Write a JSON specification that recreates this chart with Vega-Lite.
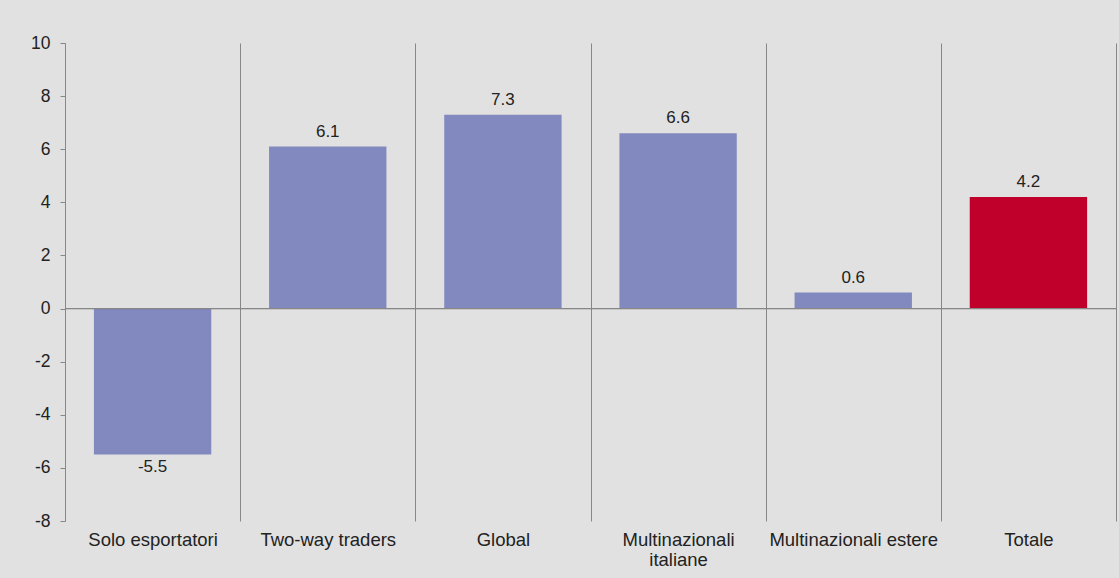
{
  "$schema": "https://vega.github.io/schema/vega-lite/v6.json",
  "autosize": "none",
  "width": 1051,
  "height": 478,
  "padding": {"left": 65, "top": 43, "right": 3, "bottom": 57},
  "background": "#e1e1e1",
  "config": {
    "view": {"stroke": null},
    "font": "Liberation Sans",
    "locale": {"number": {"decimal": ".", "thousands": ",", "grouping": [3], "currency": ["", ""], "minus": "-"}},
    "axis": {"labelFont": "Liberation Sans", "labelFontSize": 16, "labelColor": "#222222", "titleFontSize": 16}
  },
  "data": {
    "values": [
      {"cat": "Solo esportatori", "value": -5.5},
      {"cat": "Two-way traders", "value": 6.1},
      {"cat": "Global", "value": 7.3},
      {"cat": "Multinazionali italiane", "value": 6.6},
      {"cat": "Multinazionali estere", "value": 0.6},
      {"cat": "Totale", "value": 4.2}
    ]
  },
  "encoding": {
    "x": {
      "field": "cat",
      "type": "nominal",
      "sort": null,
      "scale": {"paddingInner": 0, "paddingOuter": 0},
      "axis": {
        "title": null,
        "labelAngle": 0,
        "domain": false,
        "ticks": false,
        "tickBand": "extent",
        "labelFontSize": 18.5,
        "labelPadding": 9,
        "labelBaseline": "top",
        "labelLineHeight": 20,
        "labelExpr": "datum.value == 'Multinazionali italiane' ? ['Multinazionali', 'italiane'] : datum.value",
        "grid": true,
        "gridColor": "#888888",
        "gridWidth": 1
      }
    },
    "y": {
      "field": "value",
      "type": "quantitative",
      "scale": {"domain": [-8, 10], "nice": false, "zero": false},
      "axis": {
        "title": null,
        "values": [-8, -6, -4, -2, 0, 2, 4, 6, 8, 10],
        "grid": false,
        "domainColor": "#888888",
        "tickColor": "#888888",
        "tickSize": 5,
        "labelFontSize": 17.5,
        "labelPadding": 10
      }
    }
  },
  "layer": [
    {
      "mark": {"type": "bar", "width": {"band": 0.67}},
      "encoding": {
        "color": {
          "condition": {"test": "datum.cat === 'Totale'", "value": "#c0002a"},
          "value": "#8289bf"
        }
      }
    },
    {
      "mark": {"type": "rule", "color": "#888888", "strokeWidth": 1},
      "encoding": {
        "y": {"datum": 0, "type": "quantitative"},
        "x": {"value": 0},
        "x2": {"value": 1051}
      }
    },
    {
      "transform": [{"filter": "datum.value >= 0"}],
      "mark": {"type": "text", "baseline": "bottom", "dy": -6, "fontSize": 17, "color": "#222222"},
      "encoding": {
        "text": {"field": "value", "type": "quantitative", "format": ".1f"}
      }
    },
    {
      "transform": [{"filter": "datum.value < 0"}],
      "mark": {"type": "text", "baseline": "top", "dy": 4, "fontSize": 17, "color": "#222222"},
      "encoding": {
        "text": {"field": "value", "type": "quantitative", "format": ".1f"}
      }
    }
  ]
}
